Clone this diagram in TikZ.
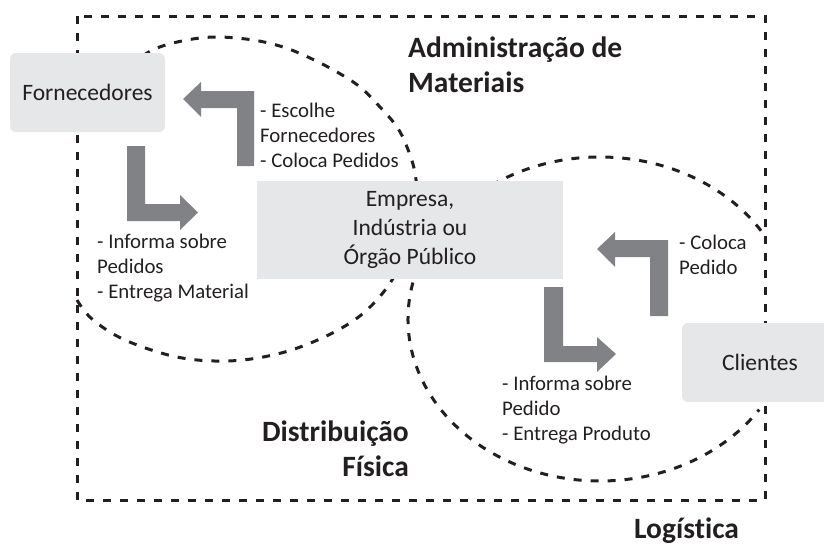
\documentclass[tikz,border=0pt]{standalone}
\usepackage{fontspec}
\setmainfont{Carlito}[Ligatures=NoCommon]
\definecolor{boxgray}{HTML}{E6E7E8}
\definecolor{arrowgray}{HTML}{808285}
\definecolor{ink}{HTML}{231F20}
\begin{document}
\begin{tikzpicture}[x=1pt,y=-1pt,
  dashline/.style={draw=ink, line width=3pt, dash pattern=on 8pt off 9pt},
  graybox/.style={fill=boxgray, draw=none, inner sep=0pt, text=ink, font=\fontsize{23.5}{29}\selectfont, align=center},
  lbl/.style={text=ink, font=\fontsize{20.8}{25}\selectfont, align=left, inner sep=0pt, anchor=west},
  titletext/.style={text=ink, font=\bfseries\fontsize{29.5}{35}\selectfont, inner sep=0pt},
  blockarrow/.style={fill=arrowgray, draw=none}]
\useasboundingbox (0,0) rectangle (824,546);
\clip (0,0) rectangle (824,546);
% outer frame
\draw[dashline] (77,16) rectangle (765,500);
% left ellipse (Administracao de Materiais)
\draw[dashline] plot[smooth, tension=0.6] coordinates {(77,300) (92,319) (125,340) (177,357) (227,361) (273,355) (313,342) (350,323) (375,302) (395,275) (410,240) (417,205) (415,173) (407,147) (397,127) (380,107) (360,87) (337,72) (310,58) (283,47) (253,40) (217,37) (187,40) (157,48) (137,60) (118,76)};
% right ellipse (Distribuicao Fisica)
\draw[dashline] (600,319) ++(-33:192 and 162) arc[start angle=-33, end angle=-326, x radius=192, y radius=162];
% boxes
\node[graybox, rounded corners=6pt, minimum width=155pt, minimum height=79pt] (forn) at (87.5,92.5) {Fornecedores};
\node[graybox, minimum width=306pt, minimum height=98pt] (emp) at (410,230) {Empresa,\\Indústria ou\\Órgão Público};
\node[graybox, rounded corners=6pt, minimum width=156pt, minimum height=79pt] (cli) at (760,362.5) {Clientes};
% block arrows
\fill[blockarrow] (183,99) -- (201,82) -- (201,91) -- (254,91) -- (254,166) -- (237,166) -- (237,108) -- (201,108) -- (201,117) -- cycle;
\fill[blockarrow] (127,146) -- (145,146) -- (145,204) -- (180,204) -- (180,195) -- (198,212.5) -- (180,230) -- (180,221) -- (127,221) -- cycle;
\fill[blockarrow] (597,249) -- (615,232) -- (615,240) -- (668,240) -- (668,316) -- (650,316) -- (650,257) -- (615,257) -- (615,267) -- cycle;
\fill[blockarrow] (544,287) -- (563,287) -- (563,346) -- (597,346) -- (597,337) -- (616,354) -- (597,372) -- (597,362) -- (544,362) -- cycle;
% labels
\node[lbl] (l1) at (260,135) {- Escolhe\\Fornecedores\\- Coloca Pedidos};
\node[lbl] (l2) at (97,268) {- Informa sobre\\Pedidos\\- Entrega Material};
\node[lbl] (l3) at (679,254.5) {- Coloca\\Pedido};
\node[lbl] (l4) at (502,410) {- Informa sobre\\Pedido\\- Entrega Produto};
% titles
\node[titletext, align=left, anchor=west] (t1) at (408,65) {Administração de\\Materiais};
\node[titletext, align=right, anchor=east] (t2) at (409,449) {Distribuição\\Física};
\node[titletext, anchor=west] (t3) at (634,531) {Logística};
\end{tikzpicture}
\end{document}
